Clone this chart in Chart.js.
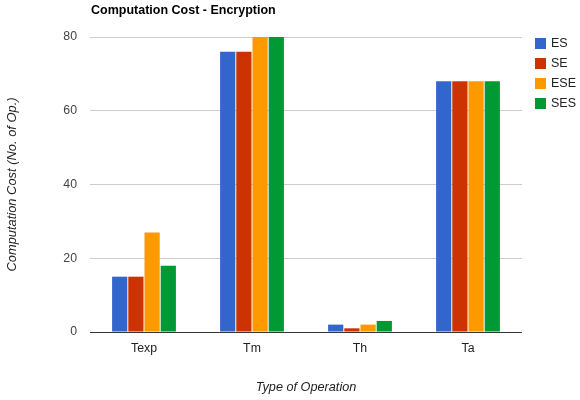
<!DOCTYPE html>
<html>
<head>
<meta charset="utf-8">
<script src="https://cdn.jsdelivr.net/npm/chart.js@4.4.0/dist/chart.umd.min.js"></script>
<style>
  html, body { margin: 0; padding: 0; background: #fff; }
  #wrap { width: 580px; height: 400px; }
</style>
</head>
<body>
<div id="wrap"><canvas id="c" width="580" height="400"></canvas></div>
<script>
const chartTitle = 'Computation Cost - Encryption';
const xTitle = 'Type of Operation';
const yTitle = 'Computation Cost (No. of Op.)';
const categories = ['Texp', 'Tm', 'Th', 'Ta'];
const seriesNames = ['ES', 'SE', 'ESE', 'SES'];
const seriesColors = ['#3366cc', '#cc3300', '#ff9900', '#009933'];
const esValues = [15, 76, 2, 68];
const seValues = [15, 76, 1, 68];
const eseValues = [27, 80, 2, 68];
const sesValues = [18, 80, 3, 68];
const yTicks = [0, 20, 40, 60, 80];

const FONT = "'Liberation Sans', Arial, sans-serif";
const seriesValues = [esValues, seValues, eseValues, sesValues];

const customDecor = {
  id: 'customDecor',
  afterDraw(chart) {
    const ctx = chart.ctx;
    const area = chart.chartArea;
    ctx.save();
    // Title
    ctx.font = 'bold 12.5px ' + FONT;
    ctx.fillStyle = '#000';
    ctx.textAlign = 'left';
    ctx.textBaseline = 'middle';
    ctx.fillText(chartTitle, area.left + 1, 10.5);
    // Legend
    ctx.font = '12.5px ' + FONT;
    chart.data.datasets.forEach((ds, i) => {
      const y = 38 + i * 20;
      ctx.fillStyle = ds.backgroundColor;
      ctx.fillRect(area.right + 13, y, 11, 11);
      ctx.fillStyle = '#222';
      ctx.fillText(ds.label, area.right + 29, y + 6);
    });
    ctx.restore();
  }
};

new Chart(document.getElementById('c'), {
  type: 'bar',
  data: {
    labels: categories,
    datasets: seriesNames.map((name, i) => ({
      label: name,
      data: seriesValues[i],
      backgroundColor: seriesColors[i],
      borderWidth: 0,
      categoryPercentage: 0.6,
      barPercentage: 0.94
    }))
  },
  options: {
    responsive: false,
    animation: false,
    devicePixelRatio: 1,
    layout: { padding: { top: 37, right: 58, bottom: 0, left: 0 } },
    plugins: {
      legend: { display: false },
      title: { display: false },
      tooltip: { enabled: false }
    },
    scales: {
      x: {
        grid: { display: false, drawTicks: false },
        border: { display: false },
        ticks: { color: '#222', font: { family: FONT, size: 12.3 }, padding: 9 },
        title: { display: true, text: xTitle, color: '#222', font: { family: FONT, size: 12.7, style: 'italic' }, padding: { top: 0, bottom: 5 } },
        afterFit(scale) { scale.height = 68; }
      },
      y: {
        min: 0,
        max: 80,
        afterBuildTicks(scale) { scale.ticks = yTicks.map(v => ({ value: v })); },
        grid: {
          drawTicks: false,
          color: ctx => (ctx.tick && ctx.tick.value === 0) ? '#333' : '#cccccc',
          lineWidth: 1
        },
        border: { display: false },
        ticks: { color: '#444', font: { family: FONT, size: 12.3 }, padding: 13 },
        title: { display: true, text: yTitle, color: '#222', font: { family: FONT, size: 12.9, style: 'italic' }, padding: { top: 5, bottom: 0 } },
        afterFit(scale) { scale.width = 90; }
      }
    }
  },
  plugins: [customDecor]
});
</script>
</body>
</html>
